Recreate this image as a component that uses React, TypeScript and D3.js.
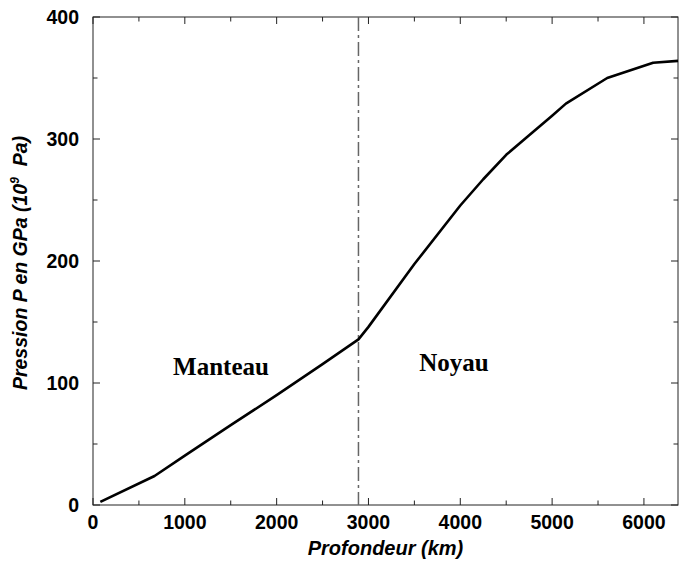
import React, { useEffect, useRef } from 'react';
import * as d3 from 'd3';

// Profondeur (km) et pression (GPa)
const depthKm = [80, 670, 1000, 1500, 2000, 2500, 2891, 3000, 3500, 4000, 4250, 4500, 4750, 5000, 5150, 5600, 6100, 6371];
const pressureGPa = [2.5, 23.8, 40.5, 65.5, 90, 115.5, 135.8, 146, 197.5, 245.5, 267, 287, 303, 319, 329, 350, 362.5, 364];

const xTicks = [0, 1000, 2000, 3000, 4000, 5000, 6000];
const yTicks = [0, 100, 200, 300, 400];
const boundaryKm = 2891;

const W = 683;
const H = 564;
const margin = { top: 17, right: 5, bottom: 59, left: 93 };

const App = () => {
  const svgRef = useRef<SVGSVGElement>(null);

  useEffect(() => {
    if (!svgRef.current) return;
    const svg = d3.select(svgRef.current);
    svg.selectAll('*').remove();

    const x0 = margin.left;
    const x1 = W - margin.right;
    const y0 = H - margin.bottom;
    const y1 = margin.top;

    const x = d3.scaleLinear().domain([0, 6371]).range([x0, x1]);
    const y = d3.scaleLinear().domain([0, 400]).range([y0, y1]);

    const sans = '"Liberation Sans", Arial, Helvetica, sans-serif';
    const serif = '"Liberation Serif", "Times New Roman", serif';
    const axisColor = '#222';

    // Minor + major ticks on all four sides, pointing inward
    const xMinor = d3.range(500, 6371, 1000);
    const yMinor = d3.range(50, 400, 100);
    const major = 7;
    const minor = 4.5;

    const g = svg.append('g').attr('stroke', axisColor).attr('stroke-width', 1);
    const tick = (xa: number, ya: number, xb: number, yb: number) =>
      g.append('line').attr('x1', xa).attr('y1', ya).attr('x2', xb).attr('y2', yb);

    xTicks.forEach(v => {
      tick(x(v), y0, x(v), y0 - major);
      tick(x(v), y1, x(v), y1 + major);
    });
    xMinor.forEach(v => {
      tick(x(v), y0, x(v), y0 - minor);
      tick(x(v), y1, x(v), y1 + minor);
    });
    yTicks.forEach(v => {
      tick(x0, y(v), x0 + major, y(v));
      tick(x1, y(v), x1 - major, y(v));
    });
    yMinor.forEach(v => {
      tick(x0, y(v), x0 + minor, y(v));
      tick(x1, y(v), x1 - minor, y(v));
    });

    // frame
    svg.append('rect')
      .attr('x', x0).attr('y', y1)
      .attr('width', x1 - x0).attr('height', y0 - y1)
      .attr('fill', 'none')
      .attr('stroke', axisColor)
      .attr('stroke-width', 1);

    // tick labels
    svg.append('g')
      .selectAll('text')
      .data(xTicks)
      .join('text')
      .attr('x', d => x(d))
      .attr('y', y0 + 24)
      .attr('text-anchor', 'middle')
      .style('font-family', sans)
      .style('font-weight', 'bold')
      .style('font-size', '19.5px')
      .text(d => d);

    svg.append('g')
      .selectAll('text')
      .data(yTicks)
      .join('text')
      .attr('x', x0 - 14)
      .attr('y', d => y(d) + 7)
      .attr('text-anchor', 'end')
      .style('font-family', sans)
      .style('font-weight', 'bold')
      .style('font-size', '19.5px')
      .text(d => d);

    // boundary manteau / noyau
    svg.append('line')
      .attr('x1', x(boundaryKm)).attr('x2', x(boundaryKm))
      .attr('y1', y1).attr('y2', y0)
      .attr('stroke', '#666')
      .attr('stroke-width', 1.5)
      .attr('stroke-dasharray', '14,4,3,4');

    // pressure curve
    const line = d3.line<number>()
      .x((d, i) => x(depthKm[i]))
      .y(d => y(d));

    svg.append('path')
      .attr('d', line(pressureGPa))
      .attr('fill', 'none')
      .attr('stroke', '#000')
      .attr('stroke-width', 2.6)
      .attr('stroke-linejoin', 'round');

    // region labels
    svg.append('text')
      .attr('x', 221).attr('y', 375)
      .attr('text-anchor', 'middle')
      .style('font-family', serif)
      .style('font-weight', 'bold')
      .style('font-size', '25px')
      .text('Manteau');

    svg.append('text')
      .attr('x', 454).attr('y', 371)
      .attr('text-anchor', 'middle')
      .style('font-family', serif)
      .style('font-weight', 'bold')
      .style('font-size', '25px')
      .text('Noyau');

    // axis titles
    svg.append('text')
      .attr('x', (x0 + x1) / 2)
      .attr('y', 555)
      .attr('text-anchor', 'middle')
      .style('font-family', sans)
      .style('font-weight', 'bold')
      .style('font-style', 'italic')
      .style('font-size', '20px')
      .text('Profondeur (km)');

    const yt = svg.append('text')
      .attr('transform', `translate(27,${(y0 + y1) / 2 + 2}) rotate(-90)`)
      .attr('text-anchor', 'middle')
      .style('font-family', sans)
      .style('font-weight', 'bold')
      .style('font-style', 'italic')
      .style('font-size', '19.5px');
    yt.append('tspan').text('Pression P en GPa (10');
    yt.append('tspan').attr('dy', -8).style('font-size', '12px').text('9');
    yt.append('tspan').attr('dy', 8).text('\u00a0 Pa)');
  }, []);

  return (
    <div style={{ position: 'absolute', left: 0, top: 0, background: '#fff' }}>
      <svg ref={svgRef} width={W} height={H} style={{ display: 'block' }} />
    </div>
  );
};

export default App;
